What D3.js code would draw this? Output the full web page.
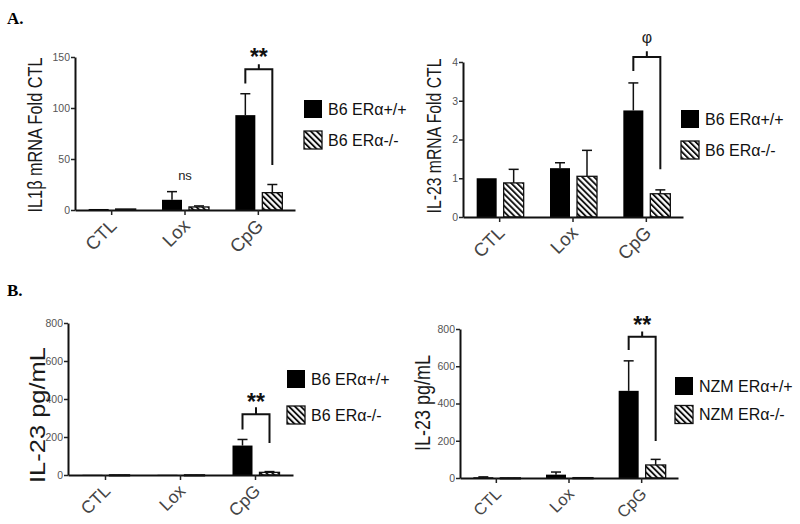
<!DOCTYPE html>
<html>
<head>
<meta charset="utf-8">
<script src="https://cdn.jsdelivr.net/npm/d3@7"></script>
<style>
  body { margin: 0; background: #fff; }
  svg { display: block; font-family: "Liberation Sans", Arial, sans-serif; }
</style>
</head>
<body>
<div id="chart"></div>
<script>
// categories and series
var categories = ["CTL", "Lox", "CpG"];
var b6Names = ["B6 ERα+/+", "B6 ERα-/-"];
var nzmNames = ["NZM ERα+/+", "NZM ERα-/-"];

// A. IL1b mRNA fold CTL
var a1Wt = [1, 10, 93];
var a1WtSem = [0, 8, 21];
var a1Ko = [1, 3, 17];
var a1KoSem = [0, 1, 8];
var a1Ticks = [0, 50, 100, 150];

// A. IL-23 mRNA fold CTL
var a2Wt = [1.0, 1.26, 2.75];
var a2WtSem = [0, 0.14, 0.71];
var a2Ko = [0.88, 1.05, 0.60];
var a2KoSem = [0.35, 0.67, 0.10];
var a2Ticks = [0, 1, 2, 3, 4];

// B. IL-23 pg/mL, B6
var b1Wt = [1, 1, 155];
var b1WtSem = [0, 0, 32];
var b1Ko = [1, 1, 14];
var b1KoSem = [0, 0, 4];
var b1Ticks = [0, 200, 400, 600, 800];

// B. IL-23 pg/mL, NZM
var b2Wt = [4, 18, 468];
var b2WtSem = [2, 14, 161];
var b2Ko = [1, 2, 70];
var b2KoSem = [0, 0, 30];
var b2Ticks = [0, 200, 400, 600, 800];

var FONT = "'Liberation Sans', Arial, sans-serif";

var svg = d3.select("#chart").append("svg")
  .attr("width", 800)
  .attr("height", 524);

// hatch pattern for the knockout bars
var defs = svg.append("defs");
var pat = defs.append("pattern")
  .attr("id", "hatch")
  .attr("patternUnits", "userSpaceOnUse")
  .attr("width", 4.2)
  .attr("height", 4.2)
  .attr("patternTransform", "rotate(-45)");
pat.append("rect").attr("width", 4.2).attr("height", 4.2).attr("fill", "#fff");
pat.append("rect").attr("width", 1.9).attr("height", 4.2).attr("fill", "#111");

var panels = [
  { wt: a1Wt, wtSem: a1WtSem, ko: a1Ko, koSem: a1KoSem, max: 150, ticks: a1Ticks,
    x0: 75, x1: 295, yTop: 57, yBot: 210,
    ylabel: "IL1β mRNA Fold CTL", lx: 42, ly: 135, lLen: 155, lSize: 20,
    names: b6Names, legX: 304, legY: 109, legGap: 31, catSize: 18.5,
    bracket: { top: 138, left: 124, right: 44, tick: 143, text: "**", ty: 52 },
    note: { cat: "Lox", text: "ns", y: 180 } },
  { wt: a2Wt, wtSem: a2WtSem, ko: a2Ko, koSem: a2KoSem, max: 4, ticks: a2Ticks,
    x0: 463, x1: 683, yTop: 62, yBot: 217,
    ylabel: "IL-23 mRNA Fold CTL", lx: 441, ly: 136, lLen: 155, lSize: 20,
    names: b6Names, legX: 681, legY: 119, legGap: 31, catSize: 18.5,
    bracket: { top: 4.13, left: 3.77, right: 1.23, tick: 4.28, text: "φ", ty: 37 } },
  { wt: b1Wt, wtSem: b1WtSem, ko: b1Ko, koSem: b1KoSem, max: 800, ticks: b1Ticks,
    x0: 68, x1: 293, yTop: 323, yBot: 475,
    ylabel: "IL-23 pg/mL", lx: 45, ly: 415, lLen: 136, lSize: 22,
    names: b6Names, legX: 287, legY: 379, legGap: 36, catSize: 17.5,
    bracket: { top: 320, left: 240, right: 168, tick: 357, text: "**", ty: 397 } },
  { wt: b2Wt, wtSem: b2WtSem, ko: b2Ko, koSem: b2KoSem, max: 800, ticks: b2Ticks,
    x0: 460, x1: 678, yTop: 329, yBot: 478,
    ylabel: "IL-23 pg/mL", lx: 430, ly: 403, lLen: 96, lSize: 22,
    names: nzmNames, legX: 675, legY: 386, legGap: 28.5, catSize: 16.5,
    bracket: { top: 758, left: 687, right: 199, tick: 787, text: "**", ty: 320 } }
];

panels.forEach(function(p) {
  var g = svg.append("g");

  var x = d3.scaleBand().domain(categories).range([p.x0, p.x1]);
  var y = d3.scaleLinear().domain([0, p.max]).range([p.yBot, p.yTop]);

  var rows = categories.map(function(c, i) {
    return { cat: c, wt: p.wt[i], wtSem: p.wtSem[i], ko: p.ko[i], koSem: p.koSem[i] };
  });
  var mid = function(c) { return x(c) + x.bandwidth() / 2; };
  var barW = 20;

  // error bars first (upper only)
  [["wt", -13], ["ko", 14]].forEach(function(s) {
    var key = s[0], off = s[1];
    var eg = g.append("g").attr("stroke", "#111").attr("stroke-width", 1.5);
    rows.forEach(function(d) {
      if (d[key + "Sem"] <= 0) return;
      var cx = mid(d.cat) + off;
      var top = y(d[key] + d[key + "Sem"]);
      eg.append("line").attr("x1", cx).attr("x2", cx).attr("y1", y(d[key])).attr("y2", top);
      eg.append("line").attr("x1", cx - 5).attr("x2", cx + 5).attr("y1", top).attr("y2", top);
    });
  });

  // bars
  g.selectAll(".wt").data(rows).enter().append("rect")
    .attr("x", function(d) { return mid(d.cat) - 23; })
    .attr("width", barW)
    .attr("y", function(d) { return y(d.wt); })
    .attr("height", function(d) { return Math.max(1, y(0) - y(d.wt)); })
    .attr("fill", "#000");

  g.selectAll(".ko").data(rows).enter().append("rect")
    .attr("x", function(d) { return mid(d.cat) + 4; })
    .attr("width", barW)
    .attr("y", function(d) { return y(d.ko); })
    .attr("height", function(d) { return Math.max(1, y(0) - y(d.ko)); })
    .attr("fill", "url(#hatch)")
    .attr("stroke", "#111")
    .attr("stroke-width", 1.3);

  // y axis
  var ya = g.append("g")
    .attr("transform", "translate(" + p.x0 + ",0)")
    .call(d3.axisLeft(y).tickValues(p.ticks).tickFormat(d3.format("d"))
      .tickSize(4).tickSizeOuter(0).tickPadding(1));
  ya.attr("font-family", FONT);
  ya.select(".domain").attr("stroke", "#111").attr("stroke-width", 2);
  ya.selectAll(".tick line").attr("stroke", "#222").attr("stroke-width", 1.5);
  ya.selectAll(".tick text").attr("fill", "#555").attr("font-size", 10.5);

  // x axis
  var xa = g.append("g")
    .attr("transform", "translate(0," + p.yBot + ")")
    .call(d3.axisBottom(x).tickSize(5).tickSizeOuter(0));
  xa.attr("font-family", FONT);
  xa.select(".domain").attr("stroke", "#111").attr("stroke-width", 2);
  xa.selectAll(".tick line").attr("stroke", "#222").attr("stroke-width", 1.5);
  xa.selectAll(".tick text")
    .attr("y", 0).attr("dy", 0)
    .attr("transform", "translate(6,17) rotate(-45)")
    .attr("text-anchor", "end")
    .attr("fill", "#444")
    .attr("font-size", p.catSize);

  // y label
  g.append("text")
    .attr("transform", "translate(" + p.lx + "," + p.ly + ") rotate(-90)")
    .attr("text-anchor", "middle")
    .attr("font-size", p.lSize)
    .attr("fill", "#1a1a1a")
    .attr("textLength", p.lLen)
    .attr("lengthAdjust", "spacingAndGlyphs")
    .text(p.ylabel);

  // significance bracket over CpG
  var b = p.bracket;
  var bl = mid("CpG") - 13, br = mid("CpG") + 14, bc = (bl + br) / 2;
  g.append("path")
    .attr("d", "M" + bl + "," + y(b.left) + "V" + y(b.top) + "H" + br + "V" + y(b.right) +
      "M" + bc + "," + y(b.top) + "V" + y(b.tick))
    .attr("fill", "none")
    .attr("stroke", "#111")
    .attr("stroke-width", 2);
  if (b.text === "**") {
    g.append("text")
      .attr("x", bc).attr("y", b.ty + 13)
      .attr("text-anchor", "middle")
      .attr("font-size", 23).attr("font-weight", "bold")
      .attr("fill", "#111")
      .text(b.text);
  } else {
    g.append("text")
      .attr("x", bc).attr("y", b.ty)
      .attr("text-anchor", "middle")
      .attr("dominant-baseline", "central")
      .attr("font-size", 16)
      .attr("fill", "#222")
      .text(b.text);
  }

  if (p.note) {
    g.append("text")
      .attr("x", mid(p.note.cat)).attr("y", p.note.y)
      .attr("text-anchor", "middle")
      .attr("font-size", 13).attr("fill", "#222")
      .text(p.note.text);
  }

  // legend
  var leg = g.append("g");
  p.names.forEach(function(name, i) {
    var cy = p.legY + i * p.legGap;
    leg.append("rect")
      .attr("x", p.legX).attr("y", cy - 9)
      .attr("width", 18).attr("height", 18)
      .attr("fill", i === 0 ? "#000" : "url(#hatch)")
      .attr("stroke", "#111").attr("stroke-width", i === 0 ? 0 : 1.3);
    leg.append("text")
      .attr("x", p.legX + 24).attr("y", cy)
      .attr("dominant-baseline", "central")
      .attr("font-size", 16).attr("fill", "#111")
      .text(name);
  });
});

// panel letters
svg.append("text").attr("x", 7).attr("y", 24)
  .attr("font-family", "'Liberation Serif', 'Times New Roman', serif")
  .attr("font-weight", "bold").attr("font-size", 17).text("A.");
svg.append("text").attr("x", 7).attr("y", 296)
  .attr("font-family", "'Liberation Serif', 'Times New Roman', serif")
  .attr("font-weight", "bold").attr("font-size", 17).text("B.");
</script>
</body>
</html>
